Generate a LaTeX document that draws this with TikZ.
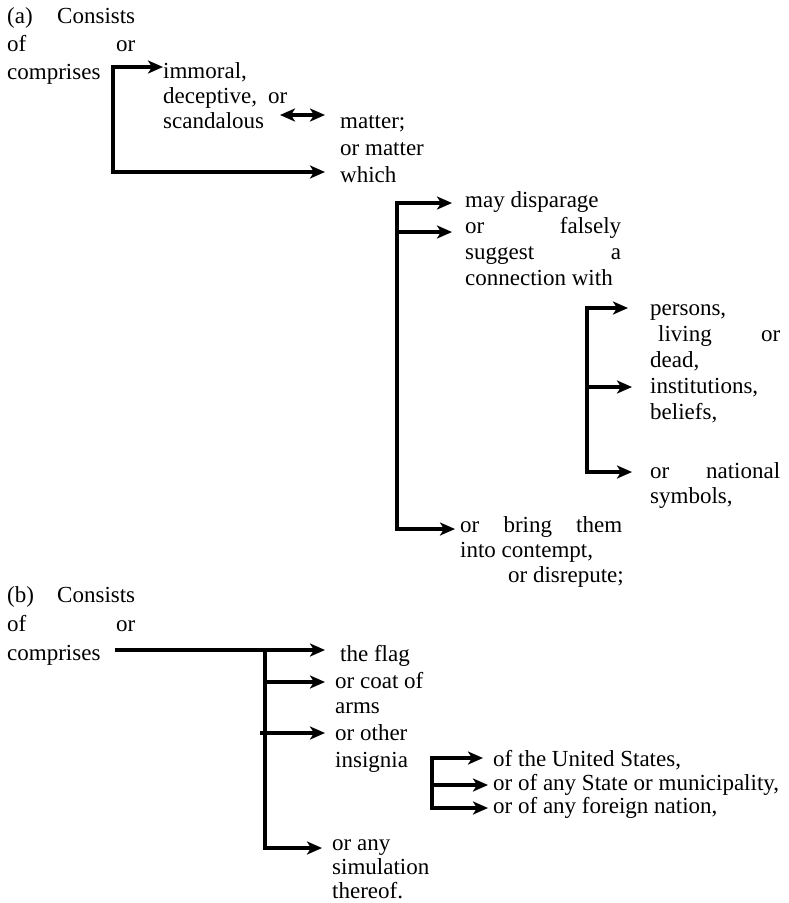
\documentclass[tikz,border=0pt]{standalone}
\usepackage{fontspec}
\setmainfont{Liberation Serif}
\usetikzlibrary{arrows.meta}

\newcommand{\txtrows}[1]{\begin{tabular}[t]{@{}l@{}}#1\end{tabular}}

\begin{document}
\begin{tikzpicture}[x=1pt,y=-1pt,>={Stealth[length=15pt,width=13pt,inset=4pt]},
    txt/.style={anchor=base west,inner sep=0pt,font=\fontsize{23}{#1}\selectfont},
    txt/.default=26,
    link/.style={line width=3.4pt,line cap=rect}]
        \useasboundingbox (0,0) rectangle (789,903);

        \node[txt=28] (ahead) at (7,23) {\txtrows{\makebox[128pt][s]{(a) Consists}\\\makebox[128pt][s]{of or}\\comprises}};
        \node[txt=25] (imm) at (163,78) {\txtrows{immoral,\\\makebox[124pt][s]{deceptive, or}\\scandalous}};
        \node[txt=27] (matter) at (340,128) {\txtrows{matter;\\or matter\\which}};
        \node[txt=26] (disp) at (465,207) {\txtrows{may disparage\\\makebox[156pt][s]{or falsely}\\\makebox[156pt][s]{suggest a}\\connection with}};
        \node[txt=26] (persons) at (650,315) {\txtrows{persons,\\\makebox[130pt][s]{\hspace{8pt}living or}\\dead,\\institutions,\\beliefs,}};
        \node[txt=25] (natl) at (650,478) {\txtrows{\makebox[130pt][s]{or national}\\symbols,}};
        \node[txt=25] (bring) at (460,532) {\txtrows{\makebox[162pt][s]{or bring them}\\into contempt,\\\hspace*{48pt}or disrepute;}};

        \coordinate (a-top) at (113,67);
        \coordinate (imm-in) at (163,67);
        \coordinate (which-in) at (325,172);
        \coordinate (scand-out) at (280,115);
        \coordinate (matter-in) at (325,115);
        \draw[link,->] (a-top) -- (imm-in);
        \draw[link,->] (a-top) |- (which-in);
        \draw[link,<->] (scand-out) -- (matter-in);

        \coordinate (w-top) at (397,203);
        \coordinate (w-mid) at (397,232);
        \coordinate (disp-in) at (452,203);
        \coordinate (false-in) at (452,232);
        \coordinate (bring-in) at (455,529);
        \draw[link,->] (w-top) -- (disp-in);
        \draw[link,->] (w-mid) -- (false-in);
        \draw[link,->] (w-top) |- (bring-in);

        \coordinate (c-top) at (587,308);
        \coordinate (c-mid) at (587,387);
        \coordinate (persons-in) at (628,308);
        \coordinate (inst-in) at (632,387);
        \coordinate (natl-in) at (632,472);
        \draw[link,->] (c-top) -- (persons-in);
        \draw[link,->] (c-mid) -- (inst-in);
        \draw[link,->] (c-top) |- (natl-in);

        \node[txt=29] (bhead) at (7,602) {\txtrows{\makebox[128pt][s]{(b) Consists}\\\makebox[128pt][s]{of or}\\comprises}};
        \node[txt] (flag) at (340,661) {the flag};
        \node[txt=25] (coat) at (335,688) {\txtrows{or coat of\\arms}};
        \node[txt=27] (other) at (335,740) {\txtrows{or other\\insignia}};
        \node[txt=24] (any) at (332,850) {\txtrows{or any\\simulation\\thereof.}};
        \node[txt] (us) at (493,766) {of the United States,};
        \node[txt] (state) at (493,790) {or of any State or municipality,};
        \node[txt] (foreign) at (493,813) {or of any foreign nation,};

        \coordinate (b-out) at (117,650);
        \coordinate (b-fork) at (265,650);
        \coordinate (coat-fork) at (265,682);
        \coordinate (other-fork) at (262,733);
        \coordinate (flag-in) at (325,650);
        \coordinate (coat-in) at (325,682);
        \coordinate (other-in) at (325,733);
        \coordinate (any-in) at (322,848);
        \draw[link,->] (b-out) -- (flag-in);
        \draw[link,->] (coat-fork) -- (coat-in);
        \draw[link,->] (other-fork) -- (other-in);
        \draw[link,->] (b-fork) |- (any-in);

        \coordinate (i-top) at (432,758);
        \coordinate (i-mid) at (432,785);
        \coordinate (us-in) at (483,758);
        \coordinate (state-in) at (488,785);
        \coordinate (foreign-in) at (488,808);
        \draw[link,->] (i-top) -- (us-in);
        \draw[link,->] (i-mid) -- (state-in);
        \draw[link,->] (i-top) |- (foreign-in);

    \end{tikzpicture}
\end{document}
